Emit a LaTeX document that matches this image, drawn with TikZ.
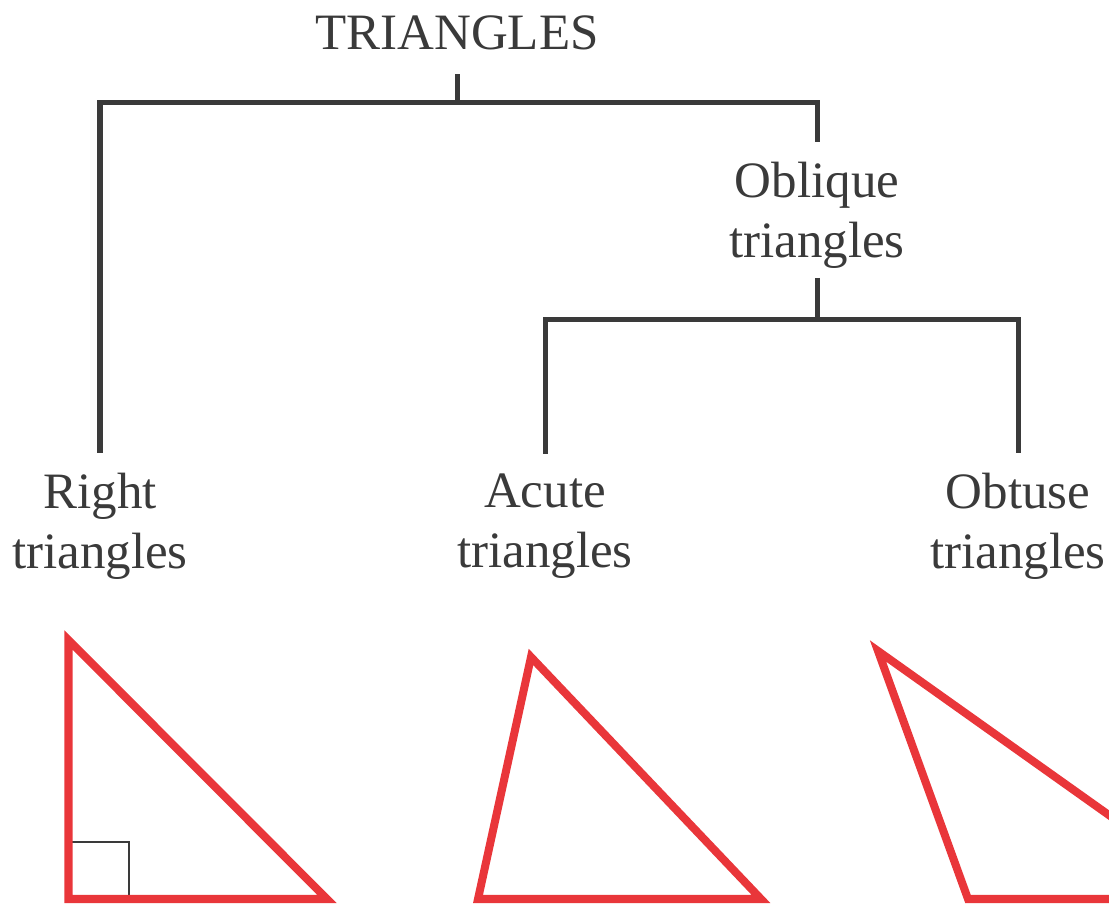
\documentclass[tikz,border=0pt]{standalone}
\usepackage{fontspec}
\setmainfont{Liberation Serif}

\definecolor{treegray}{RGB}{58,58,58}
\definecolor{trired}{RGB}{233,54,58}

\begin{document}
\begin{tikzpicture}[x=0.01cm, y=-0.01cm,
    lbl/.style={align=center, inner sep=0pt, outer sep=0.2cm, text=treegray,
                font=\fontsize{14.5}{17.1}\selectfont},
    branch/.style={draw=treegray, line width=0.05cm, line join=miter},
    redtri/.style={draw=trired, line width=0.08cm, line join=miter}]
    \useasboundingbox (0,0) rectangle (1109,904);
    \clip (0,0) rectangle (1109,904);

    % labels
    \node[lbl, anchor=base, outer sep=0.24cm] (all) at (457,50) {TRIANGLES};
    \node[lbl] (obl) at (817,215.5) {Oblique\\triangles};
    \node[lbl] (rgt) at (100,526) {Right\\triangles};
    \node[lbl] (acu) at (545,526) {Acute\\triangles};
    \node[lbl] (obt) at (1018,526) {Obtuse\\triangles};

    % tree
    \coordinate (j1) at (457,103);
    \coordinate (j2) at (817,320);
    \draw[branch] (all.south) -- (all.south |- j1);
    \draw[branch] (rgt.north) -- (rgt.north |- j1) -- (obl.north |- j1) -- (obl.north);
    \draw[branch, shorten <=-0.11cm] (obl.south) -- (obl.south |- j2);
    \draw[branch] (acu.north) -- (acu.north |- j2) -- (obt.north |- j2) -- (obt.north);

    % triangles
    \draw[treegray, line width=0.015cm] (68.5,842) -| (129,899);
    \draw[redtri] (68.5,640) -- (68.5,899) -- (327,899) -- cycle;
    \draw[redtri] (531,657) -- (478,899) -- (761,899) -- cycle;
    \draw[redtri] (878,651) -- (968,899) -- (1227,899) -- cycle;
\end{tikzpicture}
\end{document}
